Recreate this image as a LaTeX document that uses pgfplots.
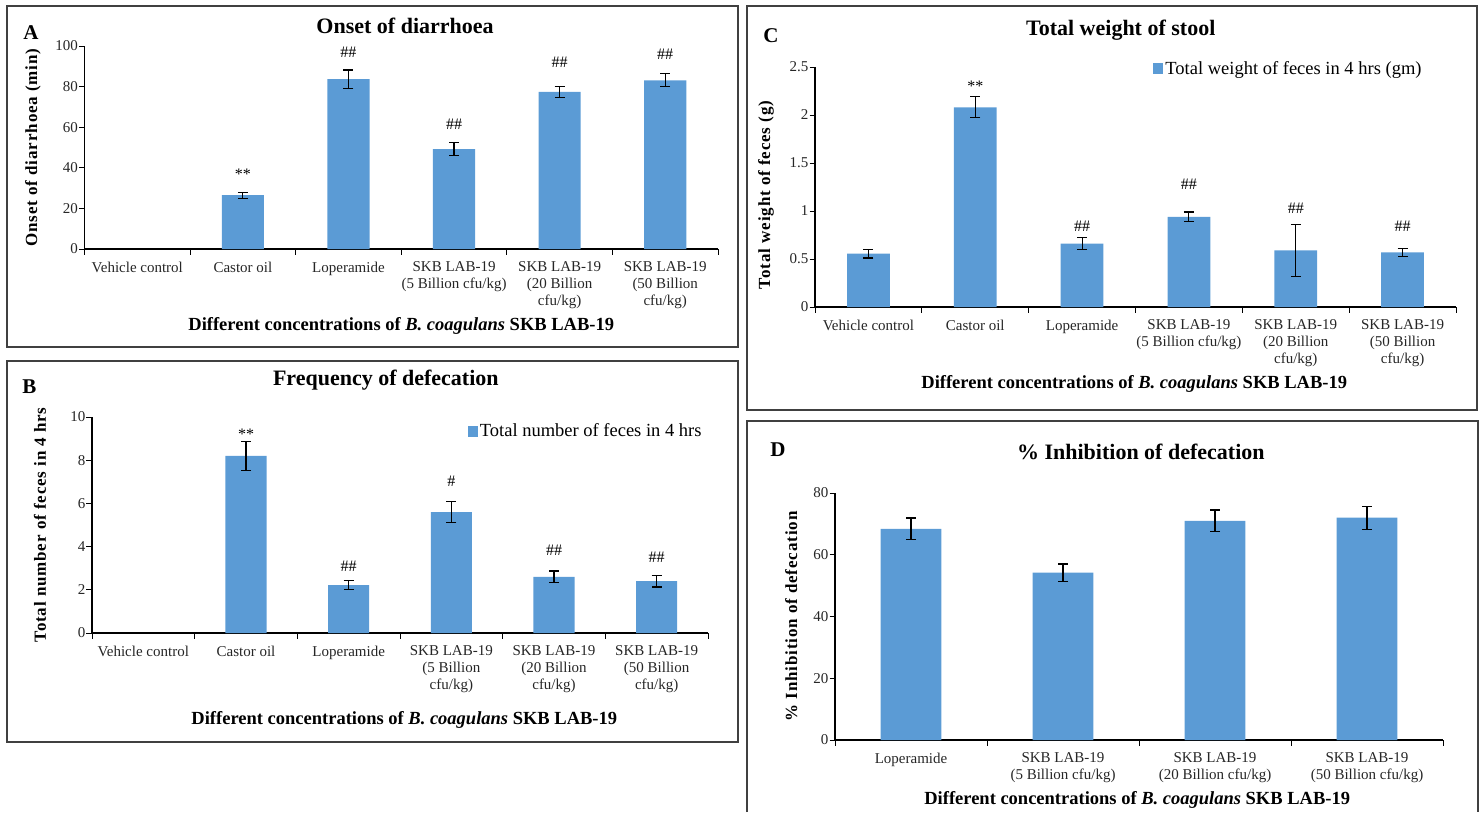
\documentclass[border=0pt]{standalone}
\usepackage{pgfplots}
\pgfplotsset{compat=1.18}
\usepackage{fontspec}
\setmainfont{Liberation Serif}
\definecolor{barblue}{HTML}{5B9BD5}
\definecolor{boxgray}{HTML}{404040}

\tikzset{
  ann/.style={font=\fontsize{16}{18}\selectfont},
  letter/.style={font=\bfseries\fontsize{21}{24}\selectfont},
}
\pgfplotsset{
  panel/.style={
    scale only axis,
    axis x line*=bottom, axis y line*=left,
    axis line style={black, line width=1.1pt, -},
    ybar, bar width=0.4,
    ymin=0,
    tick align=outside,
    major tick length=0pt,
    minor tick length=5.5pt,
    tick style={black, line width=1pt},
    xticklabel style={font=\fontsize{15}{17}\selectfont, align=center, yshift=-9.5pt, text=black!85},
    yticklabel style={font=\fontsize{15}{17}\selectfont, xshift=-3pt, text=black!85},
    /pgf/number format/assume math mode=true,
    clip=false,
    title style={font=\bfseries\fontsize{22}{26}\selectfont, anchor=center},
    xlabel style={font=\bfseries\fontsize{18.5}{22}\selectfont, anchor=center},
    ylabel style={font=\bfseries\fontsize{17}{20}\selectfont\addfontfeatures{LetterSpace=5}, anchor=center},
    legend style={draw=none, fill=none, font=\fontsize{18.5}{20}\selectfont, anchor=west},
    legend image code/.code={\fill[barblue] (0pt,-5.5pt) rectangle (10pt,5.5pt);},
  },
  six/.style={xmin=-0.5, xmax=5.5, xtick={0,...,5}, minor xtick={-0.5,0.5,...,5.5}},
  bars/.style={fill=barblue, draw=none,
    error bars/.cd, y dir=both, y explicit,
    error bar style={line width=1.1pt, black},
    error mark options={rotate=90, mark size=5pt, line width=1.1pt, black}},
}

\begin{document}
\begin{tikzpicture}[x=1pt,y=1pt]
\path[use as bounding box] (0,0) rectangle (1483,-812);
\draw[boxgray, line width=1.3pt] (7,-6) rectangle (738,-347);
\draw[boxgray, line width=1.3pt] (7,-361) rectangle (738,-742);
\draw[boxgray, line width=1.3pt] (747,-6) rectangle (1477,-410);
\draw[boxgray, line width=1.3pt] (747,-812) -- (747,-421) -- (1478,-421) -- (1478,-812);

% ---------------- Panel A
\begin{axis}[panel, six, at={(84.5pt,-249pt)}, anchor=south west,
  width=633.5pt, height=203pt, ymax=100, ytick={0,20,...,100}, minor ytick={0,20,...,100},
  xticklabels={Vehicle control, Castor oil, Loperamide, {SKB LAB-19\\(5 Billion cfu/kg)}, {SKB LAB-19\\(20 Billion\\cfu/kg)}, {SKB LAB-19\\(50 Billion\\cfu/kg)}},
  title={Onset of diarrhoea}, title style={at={(axis description cs:0.506,1.069)}},
  xlabel={Different concentrations of \textit{B. coagulans} SKB LAB-19}, xlabel style={at={(axis description cs:0.5,-0.379)}},
  ylabel={Onset of diarrhoea (min)}, ylabel style={at={(axis description cs:-0.0813,0.5)}},
]
\addplot[bars] table[x=x, y=y, y error=e] {
x y e
1 26.5 1.5
2 83.7 4.5
3 49.2 3.2
4 77.4 2.8
5 83.1 3.2
};
\node[ann] at (axis cs:1,37) {**};
\node[ann] at (axis cs:2,96.7) {\#\#};
\node[ann] at (axis cs:3,61.5) {\#\#};
\node[ann] at (axis cs:4,92) {\#\#};
\node[ann] at (axis cs:5,96.1) {\#\#};
\node[letter] at (axis description cs:-0.0846,1.068) {A};
\end{axis}

% ---------------- Panel B
\begin{axis}[panel, six, at={(92pt,-633pt)}, anchor=south west,
  width=616pt, height=216pt, ymax=10, ytick={0,2,...,10}, minor ytick={0,2,...,10},
  xticklabels={Vehicle control, Castor oil, Loperamide, {SKB LAB-19\\(5 Billion\\cfu/kg)}, {SKB LAB-19\\(20 Billion\\cfu/kg)}, {SKB LAB-19\\(50 Billion\\cfu/kg)}},
  title={Frequency of defecation}, title style={at={(axis description cs:0.477,1.144)}},
  xlabel={Different concentrations of \textit{B. coagulans} SKB LAB-19}, xlabel style={at={(axis description cs:0.507,-0.403)}},
  ylabel={Total number of feces in 4 hrs}, ylabel style={at={(axis description cs:-0.0844,0.5)}},
  legend style={at={(axis description cs:0.605,0.935)}},
]
\addplot[bars] table[x=x, y=y, y error=e] {
x y e
1 8.2 0.68
2 2.22 0.2
3 5.6 0.5
4 2.6 0.27
5 2.4 0.27
};
\addlegendentry{Total number of feces in 4 hrs}
\node[ann] at (axis cs:1,9.2) {**};
\node[ann] at (axis cs:2,3.07) {\#\#};
\node[ann] at (axis cs:3,7.04) {\#};
\node[ann] at (axis cs:4,3.84) {\#\#};
\node[ann] at (axis cs:5,3.53) {\#\#};
\node[letter] at (axis description cs:-0.1016,1.14) {B};
\end{axis}

% ---------------- Panel C
\begin{axis}[panel, six, at={(815pt,-307pt)}, anchor=south west,
  width=641pt, height=240pt, ymax=2.5, ytick={0,0.5,...,2.5}, minor ytick={0,0.5,...,2.5},
  xticklabels={Vehicle control, Castor oil, Loperamide, {SKB LAB-19\\(5 Billion cfu/kg)}, {SKB LAB-19\\(20 Billion\\cfu/kg)}, {SKB LAB-19\\(50 Billion\\cfu/kg)}},
  title={Total weight of stool}, title style={at={(axis description cs:0.477,1.13)}},
  xlabel={Different concentrations of \textit{B. coagulans} SKB LAB-19}, xlabel style={at={(axis description cs:0.498,-0.321)}},
  ylabel={Total weight of feces (g)}, ylabel style={at={(axis description cs:-0.0764,0.467)}},
  legend style={at={(axis description cs:0.523,0.992)}},
]
\addplot[bars] table[x=x, y=y, y error=e] {
x y e
0 0.556 0.045
1 2.08 0.11
2 0.66 0.06
3 0.94 0.05
4 0.59 0.27
5 0.57 0.04
};
\addlegendentry{Total weight of feces in 4 hrs (gm)}
\node[ann] at (axis cs:1,2.3) {**};
\node[ann] at (axis cs:2,0.84) {\#\#};
\node[ann] at (axis cs:3,1.28) {\#\#};
\node[ann] at (axis cs:4,1.03) {\#\#};
\node[ann] at (axis cs:5,0.84) {\#\#};
\node[letter] at (axis description cs:-0.0686,1.13) {C};
\end{axis}

% ---------------- Panel D
\begin{axis}[panel, at={(835pt,-740pt)}, anchor=south west,
  width=608pt, height=247pt, ymax=80, ytick={0,20,...,80}, minor ytick={0,20,...,80},
  xmin=-0.5, xmax=3.5, xtick={0,...,3}, minor xtick={-0.5,0.5,...,3.5},
  xticklabels={Loperamide, {SKB LAB-19\\(5 Billion cfu/kg)}, {SKB LAB-19\\(20 Billion cfu/kg)}, {SKB LAB-19\\(50 Billion cfu/kg)}},
  title={\% Inhibition of defecation}, title style={at={(axis description cs:0.503,1.143)}},
  xlabel={Different concentrations of \textit{B. coagulans} SKB LAB-19}, xlabel style={at={(axis description cs:0.497,-0.243)}},
  ylabel={\% Inhibition of defecation}, ylabel style={at={(axis description cs:-0.072,0.5)}},
]
\addplot[bars] table[x=x, y=y, y error=e] {
x y e
0 68.4 3.5
1 54.2 2.8
2 71.0 3.5
3 72.0 3.7
};
\node[letter] at (axis description cs:-0.094,1.174) {D};
\end{axis}
\end{tikzpicture}
\end{document}
